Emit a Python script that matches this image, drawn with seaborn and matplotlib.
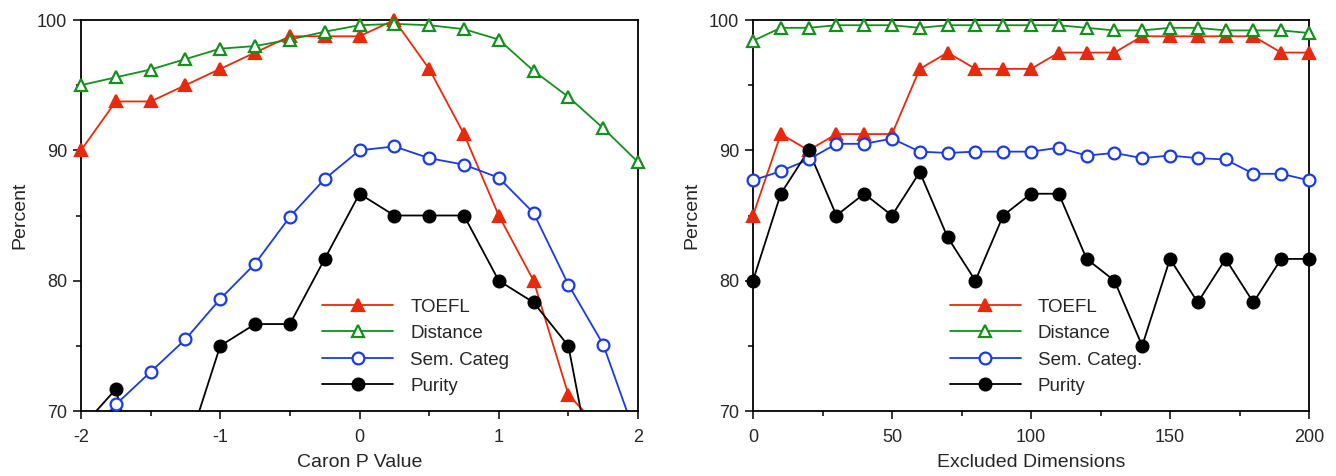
import matplotlib
matplotlib.use("Agg")
import matplotlib.pyplot as plt
from matplotlib.lines import Line2D
from matplotlib.ticker import MultipleLocator, FuncFormatter
import seaborn as sns
import pandas as pd

# left panel: Caron P value
caron_p = [-2, -1.75, -1.5, -1.25, -1, -0.75, -0.5, -0.25, 0, 0.25, 0.5, 0.75, 1, 1.25, 1.5, 1.75, 2]
left_toefl = [90, 93.75, 93.75, 95, 96.25, 97.5, 98.75, 98.75, 98.75, 100, 96.25, 91.25, 85, 80, 71.25, 68.4, 66]
left_distance = [95.0, 95.6, 96.2, 97.0, 97.8, 98.0, 98.5, 99.1, 99.6, 99.7, 99.6, 99.3, 98.5, 96.1, 94.1, 91.7, 89.1]
left_semcateg = [67.5, 70.5, 73.0, 75.5, 78.6, 81.3, 84.9, 87.8, 90.0, 90.3, 89.4, 88.9, 87.9, 85.2, 79.7, 75.1, 67.6]
left_purity = [68.7, 71.67, 61.5, 66.7, 75.0, 76.67, 76.67, 81.67, 86.67, 85.0, 85.0, 85.0, 80.0, 78.33, 75.0, 61.1, 55.0]

# right panel: excluded dimensions
excluded = [0, 10, 20, 30, 40, 50, 60, 70, 80, 90, 100, 110, 120, 130, 140, 150, 160, 170, 180, 190, 200]
right_toefl = [85, 91.25, 90, 91.25, 91.25, 91.25, 96.25, 97.5, 96.25, 96.25, 96.25, 97.5, 97.5, 97.5,
               98.75, 98.75, 98.75, 98.75, 98.75, 97.5, 97.5]
right_distance = [98.4, 99.4, 99.4, 99.6, 99.6, 99.6, 99.4, 99.6, 99.6, 99.6, 99.6, 99.6, 99.4, 99.2,
                  99.2, 99.4, 99.4, 99.2, 99.2, 99.2, 99.0]
right_semcateg = [87.7, 88.4, 89.3, 90.5, 90.5, 90.9, 89.9, 89.8, 89.9, 89.9, 89.9, 90.2, 89.6, 89.8,
                  89.4, 89.6, 89.4, 89.3, 88.2, 88.2, 87.7]
right_purity = [80, 86.67, 90, 85, 86.67, 85, 88.33, 83.33, 80, 85, 86.67, 86.67, 81.67, 80,
                75, 81.67, 78.33, 81.67, 78.33, 81.67, 81.67]

left_labels = ["TOEFL", "Distance", "Sem. Categ", "Purity"]
right_labels = ["TOEFL", "Distance", "Sem. Categ.", "Purity"]

RED, GREEN, BLUE = "#e82a0c", "#14901c", "#1a3ae6"
styles = [
    dict(color=RED, marker="^", mfc=RED, ms=9),
    dict(color=GREEN, marker="^", mfc="white", ms=9),
    dict(color=BLUE, marker="o", mfc="white", ms=8.5),
    dict(color="black", marker="o", mfc="black", ms=8.5),
]

sns.set_style("ticks")
plt.rcParams["font.family"] = ["Liberation Sans", "DejaVu Sans"]
plt.rcParams["font.size"] = 13

fig = plt.figure(figsize=(13.36, 4.76), dpi=100)
ax1 = fig.add_axes([81 / 1336, 65 / 476, 557 / 1336, 391 / 476])
ax2 = fig.add_axes([753 / 1336, 65 / 476, 556 / 1336, 391 / 476])


def draw(ax, x, series, labels, xlim, xmajor, xminor, xlabel, leg_x):
    handles = []
    for vals, st, lab in zip(series, styles, labels):
        df = pd.DataFrame({"x": x, "y": vals})
        # line, clipped to the axes
        sns.lineplot(data=df, x="x", y="y", ax=ax, color=st["color"], linewidth=1.3, legend=False)
        # markers for points in range, not clipped
        inr = df[(df.y >= 70) & (df.y <= 100)]
        sns.lineplot(data=inr, x="x", y="y", ax=ax, color=st["color"], linestyle="", marker=st["marker"],
                     markersize=st["ms"], markerfacecolor=st["mfc"], markeredgecolor=st["color"],
                     markeredgewidth=1.6, clip_on=False, legend=False, zorder=3)
        handles.append(Line2D([], [], color=st["color"], linewidth=1.3, marker=st["marker"],
                              markersize=st["ms"], markerfacecolor=st["mfc"],
                              markeredgecolor=st["color"], markeredgewidth=1.6))
    ax.set_xlim(*xlim)
    ax.set_ylim(70, 100)
    ax.xaxis.set_major_locator(MultipleLocator(xmajor))
    ax.xaxis.set_minor_locator(MultipleLocator(xminor))
    ax.xaxis.set_major_formatter(FuncFormatter(lambda v, p: "%d" % v))
    ax.yaxis.set_major_locator(MultipleLocator(10))
    ax.yaxis.set_minor_locator(MultipleLocator(5))
    ax.tick_params(which="major", length=6, width=1.3, direction="out", labelsize=13, pad=4)
    ax.tick_params(axis="x", which="major", pad=7)
    ax.tick_params(which="minor", length=3.5, width=1.3, direction="out")
    for s in ax.spines.values():
        s.set_linewidth(1.3)
        s.set_color("black")
    ax.set_xlabel(xlabel, fontsize=14, labelpad=6)
    ax.set_ylabel("Percent", fontsize=14, labelpad=6)
    ax.legend(handles, labels, loc="upper left", bbox_to_anchor=(leg_x, 0.288), frameon=False,
              fontsize=13.5, handlelength=3.8, handletextpad=0.9, labelspacing=0.5, borderpad=0,
              borderaxespad=0)


draw(ax1, caron_p, [left_toefl, left_distance, left_semcateg, left_purity], left_labels,
     (-2, 2), 1, 0.5, "Caron P Value", 0.433)
draw(ax2, excluded, [right_toefl, right_distance, right_semcateg, right_purity], right_labels,
     (0, 200), 50, 25, "Excluded Dimensions", 0.354)

fig.savefig("out.png", dpi=100)
